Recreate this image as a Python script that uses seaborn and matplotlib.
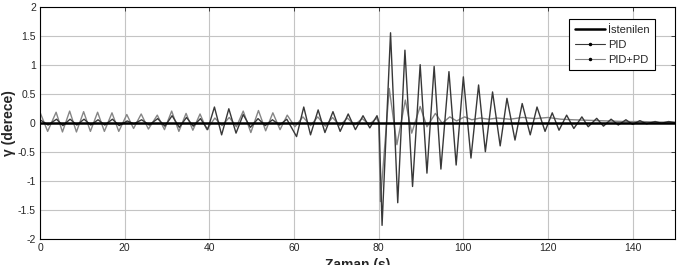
import numpy as np
import pandas as pd
import seaborn as sns
import matplotlib.pyplot as plt
from matplotlib.lines import Line2D
from matplotlib.ticker import FuncFormatter

# extrema (time in s, angle in degrees)
t_ref = [0, 150]
y_ref = [0, 0]

t_pid = [0.0, 1.9, 3.9, 5.4, 7.1, 8.7, 10.4, 12.0, 13.7, 15.3, 17.1, 18.7, 20.6, 22.2,
         24.0, 25.8, 27.8, 29.5, 31.2, 32.9, 34.6, 36.2, 37.9, 39.6, 41.2, 42.9, 44.6,
         46.3, 48.0, 49.7, 51.5, 53.2, 54.9, 56.6, 58.3, 60.6, 62.3, 63.9, 65.7, 67.3,
         69.2, 70.9, 72.8, 74.5, 76.3, 77.9, 79.6, 80.1, 80.8, 82.8, 84.5, 86.2, 88.0,
         89.8, 91.4, 93.1, 94.7, 96.6, 98.3, 100.0, 101.8, 103.6, 105.2, 106.9, 108.7,
         110.3, 112.2, 113.9, 115.8, 117.4, 119.3, 121.0, 122.6, 124.4, 126.1, 128.0,
         129.5, 131.5, 133.1, 134.9, 136.6, 138.4, 140.0, 141.7, 143.3, 145.3, 146.8,
         148.5, 150.0]
y_pid = [0.05, -0.04, 0.06, -0.05, 0.06, -0.04, 0.06, -0.04, 0.05, -0.04, 0.06, -0.05,
         0.03, -0.02, 0.05, -0.04, 0.07, -0.06, 0.12, -0.08, 0.09, -0.06, 0.07, -0.12,
         0.27, -0.21, 0.24, -0.18, 0.14, -0.08, 0.07, -0.05, 0.05, -0.04, 0.06, -0.24,
         0.27, -0.21, 0.22, -0.17, 0.19, -0.15, 0.15, -0.12, 0.12, -0.09, 0.12, 0.0,
         -1.77, 1.55, -1.38, 1.25, -1.10, 1.00, -0.87, 0.97, -0.80, 0.88, -0.73, 0.79,
         -0.61, 0.65, -0.50, 0.53, -0.40, 0.42, -0.30, 0.33, -0.21, 0.27, -0.15, 0.17,
         -0.13, 0.13, -0.10, 0.10, -0.07, 0.075, -0.06, 0.06, -0.04, 0.05, -0.03, 0.035,
         -0.02, 0.02, -0.01, 0.02, 0.0]

t_pidpd = [0.0, 1.8, 3.8, 5.3, 7.0, 8.6, 10.3, 11.9, 13.6, 15.2, 17.0, 18.6, 20.5, 22.1,
           23.9, 25.6, 27.7, 29.4, 31.1, 32.8, 34.5, 36.1, 37.8, 39.4, 41.3, 43.0, 44.7,
           46.4, 48.0, 49.8, 51.6, 53.3, 55.0, 56.7, 58.4, 60.2, 62.1, 63.9, 65.6, 67.4,
           69.1, 70.8, 72.6, 74.3, 76.1, 77.8, 79.5, 80.0, 80.4, 82.5, 84.3, 86.3, 87.8,
           89.8, 91.4, 93.4, 95.0, 96.8, 98.4, 100.3, 102.0, 104.0, 106.0, 108.0, 111.0,
           114.0, 117.0, 120.0, 123.0, 126.0, 130.0, 134.0, 138.0, 142.0, 146.0, 150.0]
y_pidpd = [0.18, -0.15, 0.18, -0.16, 0.20, -0.16, 0.19, -0.15, 0.18, -0.15, 0.17, -0.15,
           0.14, -0.10, 0.15, -0.11, 0.13, -0.12, 0.20, -0.15, 0.16, -0.13, 0.15, -0.12,
           0.08, -0.05, 0.09, -0.07, 0.20, -0.17, 0.21, -0.14, 0.17, -0.12, 0.13, -0.07,
           0.10, -0.05, 0.10, -0.06, 0.09, -0.05, 0.08, -0.04, 0.07, -0.03, 0.08, 0.0,
           -1.36, 0.59, -0.38, 0.39, -0.18, 0.28, -0.07, 0.16, -0.01, 0.10, 0.03, 0.10,
           0.05, 0.08, 0.06, 0.08, 0.06, 0.09, 0.07, 0.09, 0.06, 0.05, 0.04, 0.03, 0.02,
           0.02, 0.01, 0.01]

labels = ['İstenilen', 'PID', 'PID+PD']
colors = ['#000000', '#383838', '#858585']
widths = [1.8, 1.0, 1.0]

sns.set_style('white')
plt.rcParams['font.family'] = ['Liberation Sans', 'DejaVu Sans']

fig = plt.figure(figsize=(6.83, 2.65), dpi=100)
ax = fig.add_axes([0.0586, 0.0993, 0.9297, 0.8755])

df_pidpd = pd.DataFrame({'t': t_pidpd, 'y': y_pidpd})
df_pid = pd.DataFrame({'t': t_pid, 'y': y_pid})
df_ref = pd.DataFrame({'t': t_ref, 'y': y_ref})

sns.lineplot(data=df_pidpd, x='t', y='y', ax=ax, color=colors[2], lw=widths[2],
             estimator=None, sort=False)
sns.lineplot(data=df_pid, x='t', y='y', ax=ax, color=colors[1], lw=widths[1],
             estimator=None, sort=False)
sns.lineplot(data=df_ref, x='t', y='y', ax=ax, color=colors[0], lw=widths[0],
             estimator=None, sort=False)

ax.set_xlim(0, 150)
ax.set_ylim(-2, 2)
ax.set_xticks(np.arange(0, 141, 20))
ax.set_yticks(np.arange(-2, 2.01, 0.5))
ax.yaxis.set_major_formatter(FuncFormatter(lambda v, p: '%g' % v))
ax.tick_params(direction='in', top=True, right=True, labelsize=7.5, length=3,
               width=0.6, pad=3)
ax.grid(True, color='#c4c4c4', lw=0.8)
for s in ax.spines.values():
    s.set_color('black')
    s.set_linewidth(0.8)

# x label sits partly below the figure edge, as in the source image
ax.set_xlabel('Zaman (s)', fontsize=10, fontweight='bold', labelpad=4)
ax.set_ylabel('γ (derece)', fontsize=10, fontweight='bold', labelpad=1)

handles = [Line2D([], [], color=colors[0], lw=widths[0]),
           Line2D([], [], color=colors[1], lw=0.8, marker='.', markersize=3,
                  markerfacecolor='black', markeredgecolor='black'),
           Line2D([], [], color=colors[2], lw=0.8, marker='.', markersize=3,
                  markerfacecolor='black', markeredgecolor='black')]
leg = ax.legend(handles, labels, loc='upper right', bbox_to_anchor=(0.969, 0.946),
                borderaxespad=0, fontsize=8, fancybox=False, framealpha=1,
                edgecolor='black', handlelength=2.7, handletextpad=0.3,
                labelspacing=0.45, borderpad=0.5, numpoints=1)
leg.get_frame().set_linewidth(0.8)

fig.savefig('out.png', dpi=100)
